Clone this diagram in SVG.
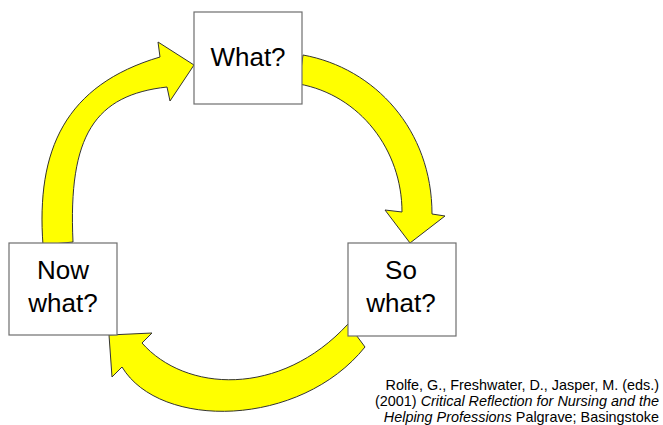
<svg xmlns="http://www.w3.org/2000/svg" width="663" height="425" viewBox="0 0 663 425">
<style>
.box{fill:#fff;stroke:#6e6e6e;stroke-width:1.2}
.lbl{font-family:"Liberation Sans",Arial,sans-serif;font-size:26px;fill:#000;text-anchor:middle}
.arr{fill:#ffff00;stroke:#333;stroke-width:1;stroke-linejoin:miter}
.cit{font-family:"Liberation Sans",Arial,sans-serif;font-size:14.4px;fill:#000;text-anchor:end}
</style>
<rect width="663" height="425" fill="#fff"/>
<g id="connectors">
<path class="arr" d="M303,55 C375,68 432,130 432,214 L445,216 L410,243 L385,210 L402,212 C402,150 360,95 299,84 Z"/>
<path class="arr" d="M365,347 C300,428 160,430 122,367 L112,377 L109,335 L152,333 L142,343 C185,392 280,398 348,324 Z"/>
<path class="arr" d="M43,245 C36,150 65,85 160,57 L158,42 L194,65 L170,101 L167,87 C95,95 68,135 73,242 Z"/>
</g>
<g id="what">
<rect class="box" x="194" y="12" width="108" height="92"/>
<text class="lbl" x="248" y="66">What?</text>
</g>
<g id="sowhat">
<rect class="box" x="348" y="243" width="108" height="93"/>
<text class="lbl" x="401" y="279">So</text>
<text class="lbl" x="401" y="312">what?</text>
</g>
<g id="nowwhat">
<rect class="box" x="9" y="243" width="108" height="92"/>
<text class="lbl" x="63" y="279">Now</text>
<text class="lbl" x="63" y="312">what?</text>
</g>
<g id="citation">
<text class="cit" x="659" y="390">Rolfe, G., Freshwater, D., Jasper, M. (eds.)</text>
<text class="cit" x="659" y="406">(2001) <tspan font-style="italic">Critical Reflection for Nursing and the</tspan></text>
<text class="cit" x="659" y="422"><tspan font-style="italic">Helping Professions</tspan> Palgrave; Basingstoke</text>
</g>
</svg>
